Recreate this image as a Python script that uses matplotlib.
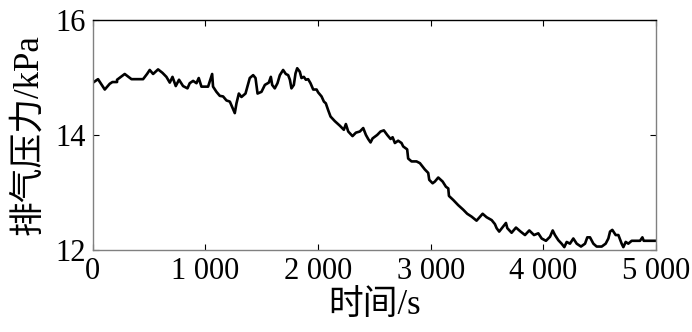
import matplotlib
matplotlib.use("Agg")
import matplotlib.pyplot as plt
from matplotlib.ticker import FuncFormatter

plt.rcParams['font.family'] = ['Liberation Serif', 'Noto Sans CJK SC']

# exhaust pressure trace, time (s) vs pressure (kPa)
time_s = [3, 47, 107, 151, 175, 216, 216, 284, 344, 447, 482, 506, 536, 580, 619,
          654, 684, 708, 737, 766, 802, 841, 861, 891, 921, 941, 965, 1024, 1060,
          1068, 1098, 1128, 1157, 1187, 1217, 1237, 1261, 1276, 1297, 1320, 1356,
          1394, 1424, 1445, 1463, 1498, 1528, 1563, 1581, 1593, 1616, 1640, 1661,
          1690, 1714, 1735, 1750, 1764, 1785, 1800, 1815, 1838, 1853, 1874, 1892,
          1912, 1933, 1957, 1987, 2001, 2031, 2052, 2069, 2090, 2111, 2149, 2194,
          2229, 2247, 2268, 2306, 2336, 2371, 2401, 2425, 2445, 2466, 2484, 2504,
          2525, 2555, 2584, 2614, 2644, 2662, 2682, 2711, 2741, 2756, 2791, 2800,
          2830, 2874, 2904, 2948, 2978, 2987, 3017, 3037, 3067, 3106, 3135, 3156,
          3162, 3200, 3244, 3289, 3324, 3363, 3407, 3461, 3496, 3541, 3570, 3585,
          3608, 3644, 3668, 3680, 3718, 3757, 3798, 3837, 3875, 3917, 3955, 3985,
          4023, 4059, 4083, 4103, 4133, 4162, 4186, 4207, 4236, 4266, 4296, 4334,
          4370, 4390, 4414, 4444, 4473, 4518, 4553, 4577, 4592, 4612, 4642, 4666,
          4695, 4710, 4731, 4754, 4784, 4858, 4879, 4891, 5000]
pressure_kpa = [14.91, 14.97, 14.79, 14.89, 14.92, 14.92, 14.96, 15.06, 14.97, 14.97,
                15.06, 15.13, 15.06, 15.14, 15.08, 15.01, 14.91, 15.01, 14.85, 14.96,
                14.85, 14.81, 14.90, 14.94, 14.90, 14.99, 14.84, 14.84, 15.06, 14.84,
                14.75, 14.68, 14.67, 14.60, 14.58, 14.49, 14.38, 14.55, 14.72, 14.66,
                14.72, 14.99, 15.04, 14.99, 14.72, 14.75, 14.87, 14.91, 15.01, 14.87,
                14.81, 14.90, 15.04, 15.13, 15.06, 15.04, 14.96, 14.81, 14.87, 15.07,
                15.16, 15.10, 14.99, 15.01, 14.96, 14.97, 14.90, 14.79, 14.79, 14.74,
                14.67, 14.58, 14.55, 14.43, 14.32, 14.24, 14.16, 14.09, 14.19, 14.06,
                13.98, 14.04, 14.06, 14.12, 14.00, 13.93, 13.87, 13.94, 13.97, 14.00,
                14.06, 14.08, 14.00, 13.93, 13.96, 13.86, 13.90, 13.86, 13.80, 13.75,
                13.59, 13.54, 13.54, 13.51, 13.40, 13.34, 13.22, 13.16, 13.19, 13.26,
                13.19, 13.10, 13.07, 12.94, 12.87, 12.78, 12.70, 12.63, 12.58, 12.51,
                12.63, 12.57, 12.52, 12.45, 12.38, 12.32, 12.41, 12.47, 12.38, 12.30,
                12.39, 12.32, 12.26, 12.34, 12.26, 12.29, 12.20, 12.16, 12.23, 12.34,
                12.26, 12.17, 12.11, 12.05, 12.14, 12.11, 12.20, 12.11, 12.06, 12.11,
                12.22, 12.22, 12.11, 12.06, 12.06, 12.11, 12.20, 12.32, 12.35, 12.26,
                12.26, 12.11, 12.05, 12.14, 12.11, 12.16, 12.16, 12.22, 12.16, 12.16]

x_ticks = [0, 1000, 2000, 3000, 4000, 5000]
y_ticks = [12, 14, 16]

fig = plt.figure(figsize=(6.92, 3.32), dpi=100)
ax = fig.add_axes([0.134, 0.247, 0.814, 0.693])

ax.plot(time_s, pressure_kpa, color='black', linewidth=1.9)

ax.set_xlim(0, 5000)
ax.set_ylim(12, 16)
ax.set_xticks(x_ticks)
ax.set_yticks(y_ticks)
ax.xaxis.set_major_formatter(FuncFormatter(
    lambda v, pos: '{:,}'.format(int(v)).replace(',', ' ')))

ax.tick_params(direction='in', top=True, right=True, length=4,
               labelsize=22, width=0.8)
ax.tick_params(axis='x', pad=5)
ax.tick_params(axis='y', pad=5)

for side in ['left', 'bottom', 'right']:
    ax.spines[side].set_color('#808080')
ax.spines['top'].set_color('black')
for s in ax.spines.values():
    s.set_linewidth(1.0)

ax.set_xlabel('时间/s', fontsize=25, labelpad=2)
ax.set_ylabel('排气压力/kPa', fontsize=25, labelpad=7)

fig.savefig('out.png', dpi=100)
